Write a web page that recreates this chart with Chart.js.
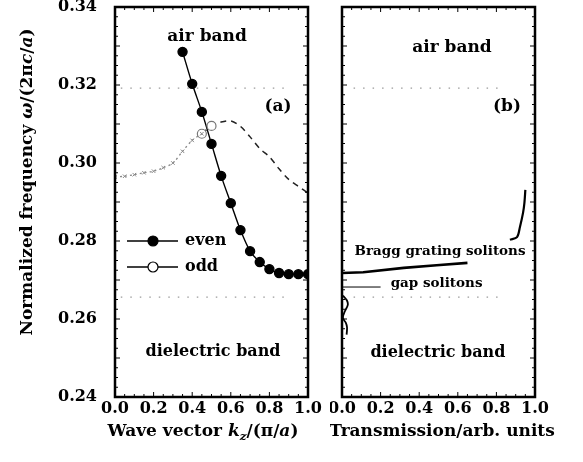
<!DOCTYPE html>
<html>
<head>
<meta charset="utf-8">
<script src="https://cdn.jsdelivr.net/npm/chart.js@4/dist/chart.umd.min.js"></script>
<style>
  html, body { margin: 0; padding: 0; background: #fff; }
  #wrap { position: relative; width: 583px; height: 462px; }
  #cA { position: absolute; left: 0; top: 0; }
  #cB { position: absolute; left: 330px; top: 0; }
</style>
</head>
<body>
<div id="wrap">
  <canvas id="cA" width="330" height="462"></canvas>
  <canvas id="cB" width="253" height="462"></canvas>
</div>
<script>
// ---- data, panel (a): band structure
var kEven = [0.35, 0.40, 0.45, 0.50, 0.55, 0.60, 0.65, 0.70, 0.75, 0.80, 0.85, 0.90, 0.95, 1.00];
var wEven = [0.3285, 0.3203, 0.3131, 0.3049, 0.2967, 0.2897, 0.2828, 0.2774, 0.2746, 0.2728, 0.2718, 0.2715, 0.2715, 0.2715];

var kOdd = [0, 0.05, 0.10, 0.15, 0.20, 0.25, 0.30, 0.35, 0.40, 0.45, 0.50, 0.55, 0.60, 0.65, 0.70, 0.75, 0.80, 0.85, 0.90, 0.95, 1.00];
var wOdd = [0.2964, 0.2966, 0.2970, 0.2975, 0.2979, 0.2988, 0.3000, 0.3030, 0.3058, 0.3075, 0.3095, 0.3105, 0.3108, 0.3094, 0.3067, 0.3037, 0.3016, 0.2985, 0.2958, 0.2940, 0.2923];
var oddSplit = 9;       // odd band drawn dotted before k = 0.45, dashed after

var bandEdges = [0.3192, 0.2656];   // air / dielectric band edges
var edgeSpanA = [0.03, 0.90];
var edgeSpanB = [0.06, 0.82];

// ---- data, panel (b): transmission
var tBragg = [0, 0.11, 0.32, 0.49, 0.65];
var wBragg = [0.2718, 0.2720, 0.2731, 0.2738, 0.2744];
var tUpper = [0.870, 0.907, 0.922, 0.938, 0.945, 0.950];
var wUpper = [0.2803, 0.2810, 0.2836, 0.2872, 0.2897, 0.2931];
var tGap = [0, 0.20];
var wGap = [0.2682, 0.2682];
var tLow = [0.005, 0.025, 0.030, 0.015, 0.005, 0.020, 0.026, 0.024];
var wLow = [0.2660, 0.2648, 0.2636, 0.2620, 0.2603, 0.2590, 0.2579, 0.2560];

// ---- ticks
var xTicks = [0, 0.2, 0.4, 0.6, 0.8, 1.0];
var yTicks = [0.24, 0.26, 0.28, 0.30, 0.32, 0.34];

var serif = "'DejaVu Serif', 'Liberation Serif', serif";

function pts(xs, ys) {
  return xs.map(function (x, i) { return { x: x, y: ys[i] }; });
}

// text made of runs: {t, it (italic), sub}
function fontOf(r, size) {
  return (r.it ? 'italic ' : '') + 'bold ' + (r.sub ? size * 0.7 : size) + 'px ' + serif;
}
function drawRuns(ctx, runs, x, y, size, align) {
  var total = 0;
  runs.forEach(function (r) {
    ctx.font = fontOf(r, size);
    r.w = ctx.measureText(r.t).width;
    total += r.w;
  });
  var cx = align === 'left' ? x : x - total / 2;
  ctx.textAlign = 'left';
  ctx.textBaseline = 'middle';
  runs.forEach(function (r) {
    ctx.font = fontOf(r, size);
    ctx.fillText(r.t, cx, r.sub ? y + size * 0.3 : y);
    cx += r.w;
  });
}

// frame, inward ticks, labels
var decor = {
  id: 'decor',
  afterDatasetsDraw: function (chart, args, o) {
    var ctx = chart.ctx, a = chart.chartArea;
    var x = chart.scales.x, y = chart.scales.y;
    ctx.save();
    ctx.strokeStyle = '#000';
    ctx.lineWidth = 1;
    ctx.beginPath();
    for (var i = 0; i <= 20; i++) {
      var px = x.getPixelForValue(i * 0.05);
      var len = i % 4 === 0 ? 5 : 3;
      ctx.moveTo(px, a.bottom); ctx.lineTo(px, a.bottom - len);
      ctx.moveTo(px, a.top); ctx.lineTo(px, a.top + len);
    }
    for (var j = 0; j <= 40; j++) {
      var py = y.getPixelForValue(0.24 + j * 0.0025);
      var l2 = j % 4 === 0 ? 5 : 3;
      ctx.moveTo(a.left, py); ctx.lineTo(a.left + l2, py);
      ctx.moveTo(a.right, py); ctx.lineTo(a.right - l2, py);
    }
    ctx.stroke();
    ctx.lineWidth = 2.5;
    ctx.strokeRect(a.left, a.top, a.right - a.left, a.bottom - a.top);

    ctx.fillStyle = '#000';
    (o.texts || []).forEach(function (t) {
      drawRuns(ctx, [{ t: t.t }], x.getPixelForValue(t.x), y.getPixelForValue(t.y), t.size, 'center');
    });
    if (o.extra) o.extra(ctx, chart);
    ctx.restore();
  }
};

function baseScales(showY, yWidth) {
  return {
    x: {
      type: 'linear', min: 0, max: 1,
      afterBuildTicks: function (s) { s.ticks = xTicks.map(function (v) { return { value: v }; }); },
      ticks: {
        callback: function (v) { return v.toFixed(1); },
        font: { family: serif, size: 16, weight: 'bold' }, color: '#000', padding: 2, maxRotation: 0, autoSkip: false
      },
      grid: { display: false, drawTicks: false },
      border: { display: false },
      afterFit: function (s) { s.height = 65; s.paddingLeft = 0; s.paddingRight = 0; }
    },
    y: {
      type: 'linear', min: 0.24, max: 0.34,
      afterBuildTicks: function (s) { s.ticks = yTicks.map(function (v) { return { value: v }; }); },
      ticks: {
        display: showY,
        callback: function (v) { return v.toFixed(2); },
        font: { family: serif, size: 16, weight: 'bold' }, color: '#000', padding: 18
      },
      grid: { display: false, drawTicks: false },
      border: { display: false },
      afterFit: function (s) { s.width = yWidth; s.paddingTop = 0; s.paddingBottom = 0; }
    }
  };
}

function edgeSets(span) {
  return bandEdges.map(function (w) {
    return {
      data: pts(span, [w, w]),
      borderColor: '#9a9a9a', borderWidth: 1.2, borderDash: [1.5, 8],
      pointRadius: 0, fill: false
    };
  });
}

var chartA = new Chart(document.getElementById('cA'), {
  type: 'line',
  data: {
    datasets: edgeSets(edgeSpanA).concat([
      {
        label: 'odd',
        data: pts(kOdd.slice(0, oddSplit + 1), wOdd.slice(0, oddSplit + 1)),
        borderColor: '#8a8a8a', borderWidth: 1.3, borderDash: [2, 3],
        pointStyle: 'crossRot', pointRadius: 2.5, pointBorderColor: '#8a8a8a', pointBorderWidth: 1,
        tension: 0.3
      },
      {
        label: 'odd',
        data: pts(kOdd.slice(oddSplit), wOdd.slice(oddSplit)),
        borderColor: '#222', borderWidth: 1.5, borderDash: [6, 5],
        pointRadius: function (c) { return c.dataIndex < 2 ? 4.5 : 0; },
        pointBackgroundColor: '#fff', pointBorderColor: '#777', pointBorderWidth: 1.2,
        tension: 0.3
      },
      {
        label: 'even',
        data: pts(kEven, wEven),
        borderColor: '#000', borderWidth: 1.4,
        pointRadius: 4.5, pointBackgroundColor: '#000', pointBorderColor: '#000',
        cubicInterpolationMode: 'monotone'
      }
    ])
  },
  options: {
    responsive: false, animation: false, events: [],
    layout: { padding: { top: 7, right: 22, left: 0, bottom: 0 } },
    scales: baseScales(true, 115),
    plugins: {
      legend: { display: false }, tooltip: { enabled: false },
      decor: {
        texts: [
          { t: 'air band', x: 0.477, y: 0.3323, size: 17 },
          { t: '(a)', x: 0.845, y: 0.3144, size: 17 },
          { t: 'dielectric band', x: 0.508, y: 0.2515, size: 16 }
        ],
        extra: function (ctx, chart) {
          // legend
          var rows = [{ t: 'even', y: 241, fill: '#000' }, { t: 'odd', y: 267, fill: '#fff' }];
          rows.forEach(function (r) {
            ctx.strokeStyle = '#000'; ctx.lineWidth = 1.4; ctx.setLineDash([]);
            ctx.beginPath(); ctx.moveTo(127, r.y); ctx.lineTo(178, r.y); ctx.stroke();
            ctx.beginPath(); ctx.arc(153, r.y, 5, 0, Math.PI * 2);
            ctx.fillStyle = r.fill; ctx.fill(); ctx.lineWidth = 1.2; ctx.stroke();
            ctx.fillStyle = '#000';
            drawRuns(ctx, [{ t: r.t }], 185, r.y, 16, 'left');
          });
          // axis titles
          drawRuns(ctx, [{ t: 'Wave vector ' }, { t: 'k', it: true }, { t: 'z', it: true, sub: true },
            { t: '/(π/' }, { t: 'a', it: true }, { t: ')' }], 203, 432, 17, 'center');
          ctx.save();
          ctx.translate(28, 182);
          ctx.rotate(-Math.PI / 2);
          drawRuns(ctx, [{ t: 'Normalized frequency ' }, { t: 'ω', it: true }, { t: '/(2π' },
            { t: 'c', it: true }, { t: '/' }, { t: 'a', it: true }, { t: ')' }], 0, 0, 17, 'center');
          ctx.restore();
        }
      }
    }
  },
  plugins: [decor]
});

var chartB = new Chart(document.getElementById('cB'), {
  type: 'line',
  data: {
    datasets: edgeSets(edgeSpanB).concat([
      { data: pts(tBragg, wBragg), borderColor: '#000', borderWidth: 2.6, pointRadius: 0 },
      { data: pts(tUpper, wUpper), borderColor: '#000', borderWidth: 2.2, pointRadius: 0, tension: 0.3 },
      { data: pts(tGap, wGap), borderColor: '#000', borderWidth: 1, pointRadius: 0 },
      { data: pts(tLow, wLow), borderColor: '#000', borderWidth: 1.8, pointRadius: 0, tension: 0.4 }
    ])
  },
  options: {
    responsive: false, animation: false, events: [],
    layout: { padding: { top: 7, right: 48, left: 0, bottom: 0 } },
    scales: baseScales(false, 12),
    plugins: {
      legend: { display: false }, tooltip: { enabled: false },
      decor: {
        texts: [
          { t: 'air band', x: 0.57, y: 0.3297, size: 17 },
          { t: '(b)', x: 0.855, y: 0.3144, size: 17 },
          { t: 'Bragg grating solitons', x: 0.508, y: 0.2772, size: 13.5 },
          { t: 'gap solitons', x: 0.49, y: 0.2692, size: 13.5 },
          { t: 'dielectric band', x: 0.497, y: 0.2513, size: 16 }
        ],
        extra: function (ctx) {
          drawRuns(ctx, [{ t: 'Transmission/arb. units' }], 112, 432, 17, 'center');
        }
      }
    }
  },
  plugins: [decor]
});
</script>
</body>
</html>
